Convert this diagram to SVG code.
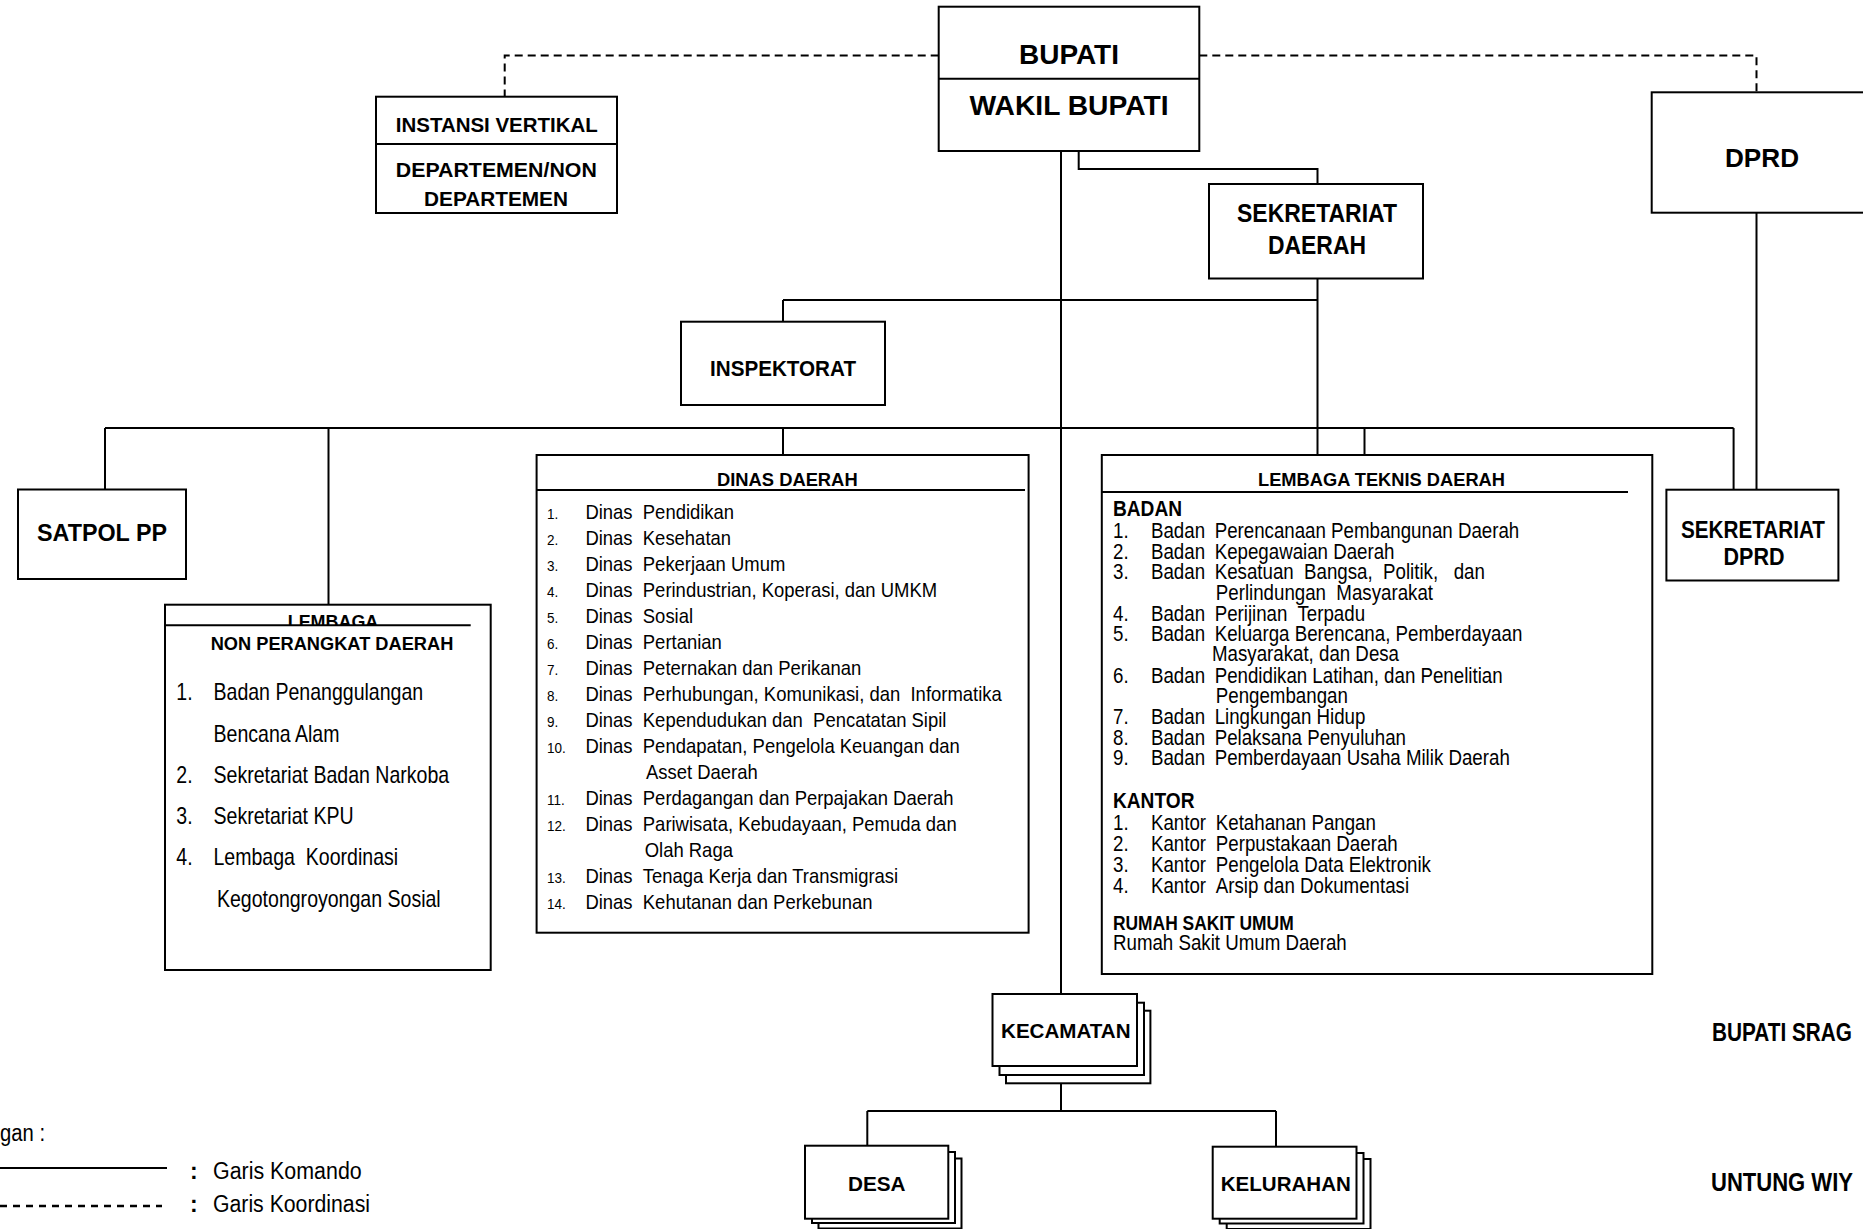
<svg xmlns="http://www.w3.org/2000/svg" width="1863" height="1229" viewBox="0 0 1863 1229">
<style>
.box{fill:#fff;stroke:#000;stroke-width:2}
.ln{fill:none;stroke:#000;stroke-width:2}
.dash{stroke-dasharray:8 5}
text{font-family:"Liberation Sans",Arial,sans-serif;fill:#000}
.b{font-weight:bold}
.c{text-anchor:middle}
.l23{font-size:23px}
.d{font-size:20.5px}
.n{font-size:15px}
.k{font-size:21.5px}
</style>
<defs>
<clipPath id="clipLem"><rect x="160" y="600" width="330" height="25"/></clipPath>
</defs>
<rect width="1863" height="1229" fill="#fff"/>

<g id="connectors">
<path class="ln" d="M1061 151 V994"/>
<path class="ln" d="M1078.7 151 V169 H1317.5 V184"/>
<path class="ln" d="M1317.5 278.5 V455"/>
<path class="ln" d="M783 300 H1317.5 M783 300 V321.7"/>
<path class="ln" d="M105 428 H1733.6"/>
<path class="ln" d="M105 428 V489.5"/>
<path class="ln" d="M328.5 428 V604.7"/>
<path class="ln" d="M783 428 V455"/>
<path class="ln" d="M1364.5 428 V455"/>
<path class="ln" d="M1733.6 428 V489.7"/>
<path class="ln" d="M1756.5 212.7 V489.7"/>
<path class="ln" d="M1061 1083 V1111 M867.3 1111 H1276 M867.3 1111 V1145.7 M1276 1111 V1146.7"/>
<path class="ln dash" d="M938.7 55.5 H504.7 V96.7"/>
<path class="ln dash" d="M1199.3 55.5 H1756.5 V92.3"/>
</g>

<g id="bupati">
<rect class="box" x="938.7" y="6.7" width="260.6" height="144.3"/>
<path class="ln" d="M938.7 78.7 H1199.3"/>
<text class="b c" x="1069" y="64" font-size="28" textLength="100" lengthAdjust="spacingAndGlyphs">BUPATI</text>
<text class="b c" x="1069" y="115.3" font-size="28" textLength="199" lengthAdjust="spacingAndGlyphs">WAKIL BUPATI</text>
</g>

<g id="instansi">
<rect class="box" x="376" y="96.7" width="241" height="116.3"/>
<path class="ln" d="M376 144 H617"/>
<text class="b c" x="496.8" y="132" font-size="21" textLength="202" lengthAdjust="spacingAndGlyphs">INSTANSI VERTIKAL</text>
<text class="b c" x="496.3" y="177" font-size="21" textLength="201" lengthAdjust="spacingAndGlyphs">DEPARTEMEN/NON</text>
<text class="b c" x="496" y="206" font-size="21" textLength="144" lengthAdjust="spacingAndGlyphs">DEPARTEMEN</text>
</g>

<g id="sekda">
<rect class="box" x="1209" y="184" width="214" height="94.5"/>
<text class="b c" x="1317" y="222" font-size="26" textLength="160" lengthAdjust="spacingAndGlyphs">SEKRETARIAT</text>
<text class="b c" x="1317" y="253.6" font-size="26" textLength="98" lengthAdjust="spacingAndGlyphs">DAERAH</text>
</g>

<g id="dprd">
<rect class="box" x="1651.7" y="92.3" width="240" height="120.4"/>
<text class="b c" x="1762" y="167.3" font-size="26" textLength="74" lengthAdjust="spacingAndGlyphs">DPRD</text>
</g>

<g id="inspektorat">
<rect class="box" x="681" y="321.7" width="204" height="83.3"/>
<text class="b c" x="783" y="375.7" font-size="22.5" textLength="146" lengthAdjust="spacingAndGlyphs">INSPEKTORAT</text>
</g>

<g id="satpol">
<rect class="box" x="18" y="489.5" width="168" height="89.5"/>
<text class="b c" x="102" y="541" font-size="24" textLength="130" lengthAdjust="spacingAndGlyphs">SATPOL PP</text>
</g>

<g id="lembaga-non">
<rect class="box" x="165" y="604.7" width="325.7" height="365.3"/>
<text class="b c" x="333" y="627.5" font-size="18" textLength="90.6" lengthAdjust="spacingAndGlyphs" clip-path="url(#clipLem)">LEMBAGA</text>
<path class="ln" d="M165 625.3 H470.7"/>
<text class="b c" x="332" y="650" font-size="18" textLength="242.6" lengthAdjust="spacingAndGlyphs">NON PERANGKAT DAERAH</text>
<g transform="translate(213.5 0) scale(0.85 1)" class="l23">
<text x="-43.8" y="700.4">1.</text><text x="0" y="700.4">Badan Penanggulangan</text>
<text x="0" y="741.7">Bencana Alam</text>
<text x="-43.8" y="782.7">2.</text><text x="0" y="782.7">Sekretariat Badan Narkoba</text>
<text x="-43.8" y="824">3.</text><text x="0" y="824">Sekretariat KPU</text>
<text x="-43.8" y="865">4.</text><text x="0" y="865" xml:space="preserve">Lembaga  Koordinasi</text>
<text x="4.1" y="907">Kegotongroyongan Sosial</text>
</g>
</g>

<g id="dinas">
<rect class="box" x="536.6" y="455" width="492" height="477.7"/>
<path class="ln" d="M536.6 490 H1025"/>
<text class="b c" x="787.3" y="485.7" font-size="18" textLength="140.7" lengthAdjust="spacingAndGlyphs">DINAS DAERAH</text>
<g transform="translate(585.4 0) scale(0.9 1)">
<text class="n" x="-42.7" y="519.3">1.</text><text class="d" x="0" y="519.3">Dinas</text><text class="d" x="63.8" y="519.3">Pendidikan</text>
<text class="n" x="-42.7" y="545.3">2.</text><text class="d" x="0" y="545.3">Dinas</text><text class="d" x="63.8" y="545.3">Kesehatan</text>
<text class="n" x="-42.7" y="571.3">3.</text><text class="d" x="0" y="571.3">Dinas</text><text class="d" x="63.8" y="571.3">Pekerjaan Umum</text>
<text class="n" x="-42.7" y="597.3">4.</text><text class="d" x="0" y="597.3">Dinas</text><text class="d" x="63.8" y="597.3">Perindustrian, Koperasi, dan UMKM</text>
<text class="n" x="-42.7" y="623.3">5.</text><text class="d" x="0" y="623.3">Dinas</text><text class="d" x="63.8" y="623.3">Sosial</text>
<text class="n" x="-42.7" y="649.3">6.</text><text class="d" x="0" y="649.3">Dinas</text><text class="d" x="63.8" y="649.3">Pertanian</text>
<text class="n" x="-42.7" y="675.3">7.</text><text class="d" x="0" y="675.3">Dinas</text><text class="d" x="63.8" y="675.3">Peternakan dan Perikanan</text>
<text class="n" x="-42.7" y="701.3">8.</text><text class="d" x="0" y="701.3">Dinas</text><text class="d" x="63.8" y="701.3" xml:space="preserve">Perhubungan, Komunikasi, dan  Informatika</text>
<text class="n" x="-42.7" y="727.3">9.</text><text class="d" x="0" y="727.3">Dinas</text><text class="d" x="63.8" y="727.3" xml:space="preserve">Kependudukan dan  Pencatatan Sipil</text>
<text class="n" x="-42.7" y="753.3">10.</text><text class="d" x="0" y="753.3">Dinas</text><text class="d" x="63.8" y="753.3">Pendapatan, Pengelola Keuangan dan</text>
<text class="d" x="67.3" y="779.3">Asset Daerah</text>
<text class="n" x="-42.7" y="805.3">11.</text><text class="d" x="0" y="805.3">Dinas</text><text class="d" x="63.8" y="805.3">Perdagangan dan Perpajakan Daerah</text>
<text class="n" x="-42.7" y="831.3">12.</text><text class="d" x="0" y="831.3">Dinas</text><text class="d" x="63.8" y="831.3">Pariwisata, Kebudayaan, Pemuda dan</text>
<text class="d" x="65.9" y="857.3">Olah Raga</text>
<text class="n" x="-42.7" y="883.3">13.</text><text class="d" x="0" y="883.3">Dinas</text><text class="d" x="63.8" y="883.3">Tenaga Kerja dan Transmigrasi</text>
<text class="n" x="-42.7" y="909.3">14.</text><text class="d" x="0" y="909.3">Dinas</text><text class="d" x="63.8" y="909.3">Kehutanan dan Perkebunan</text>
</g>
</g>

<g id="lembaga-teknis">
<rect class="box" x="1101.8" y="455" width="550.5" height="519"/>
<path class="ln" d="M1101.8 492 H1628"/>
<text class="b c" x="1381.5" y="485.8" font-size="18" textLength="247" lengthAdjust="spacingAndGlyphs">LEMBAGA TEKNIS DAERAH</text>
<g transform="translate(1151 0) scale(0.87 1)" class="k">
<text class="b" x="-43.7" y="516.4" font-size="22">BADAN</text>
<text x="-43.7" y="538.1">1.</text><text x="0" y="538.1">Badan</text><text x="73.2" y="538.1">Perencanaan Pembangunan Daerah</text>
<text x="-43.7" y="558.8">2.</text><text x="0" y="558.8">Badan</text><text x="73.2" y="558.8">Kepegawaian Daerah</text>
<text x="-43.7" y="579.5">3.</text><text x="0" y="579.5">Badan</text><text x="73.2" y="579.5" xml:space="preserve">Kesatuan  Bangsa,  Politik,   dan</text>
<text x="74.5" y="600" xml:space="preserve">Perlindungan  Masyarakat</text>
<text x="-43.7" y="620.8">4.</text><text x="0" y="620.8">Badan</text><text x="73.2" y="620.8" xml:space="preserve">Perijinan  Terpadu</text>
<text x="-43.7" y="641.4">5.</text><text x="0" y="641.4">Badan</text><text x="73.2" y="641.4">Keluarga Berencana, Pemberdayaan</text>
<text x="70.1" y="661.4">Masyarakat, dan Desa</text>
<text x="-43.7" y="682.8">6.</text><text x="0" y="682.8">Badan</text><text x="73.2" y="682.8">Pendidikan Latihan, dan Penelitian</text>
<text x="74.5" y="703.4">Pengembangan</text>
<text x="-43.7" y="724">7.</text><text x="0" y="724">Badan</text><text x="73.2" y="724">Lingkungan Hidup</text>
<text x="-43.7" y="744.8">8.</text><text x="0" y="744.8">Badan</text><text x="73.2" y="744.8">Pelaksana Penyuluhan</text>
<text x="-43.7" y="765.4">9.</text><text x="0" y="765.4">Badan</text><text x="73.2" y="765.4">Pemberdayaan Usaha Milik Daerah</text>
<text class="b" x="-43.7" y="807.8" font-size="22">KANTOR</text>
<text x="-43.7" y="830">1.</text><text x="0" y="830">Kantor</text><text x="74.5" y="830">Ketahanan Pangan</text>
<text x="-43.7" y="851.5">2.</text><text x="0" y="851.5">Kantor</text><text x="74.5" y="851.5">Perpustakaan Daerah</text>
<text x="-43.7" y="872">3.</text><text x="0" y="872">Kantor</text><text x="74.5" y="872">Pengelola Data Elektronik</text>
<text x="-43.7" y="892.8">4.</text><text x="0" y="892.8">Kantor</text><text x="74.5" y="892.8">Arsip dan Dokumentasi</text>
<text class="b" x="-43.7" y="929.7" font-size="20">RUMAH SAKIT UMUM</text>
<text x="-43.7" y="950.3">Rumah Sakit Umum Daerah</text>
</g>
</g>

<g id="sekretariat-dprd">
<rect class="box" x="1666.4" y="489.7" width="172" height="90.8"/>
<text class="b c" x="1753" y="538" font-size="23" textLength="144" lengthAdjust="spacingAndGlyphs">SEKRETARIAT</text>
<text class="b c" x="1754" y="565" font-size="23" textLength="61" lengthAdjust="spacingAndGlyphs">DPRD</text>
</g>

<g id="kecamatan">
<rect class="box" x="1006" y="1010.7" width="144.4" height="72.6"/>
<rect class="box" x="999.5" y="1002.7" width="144.5" height="72.3"/>
<rect class="box" x="992.5" y="994" width="144.5" height="72"/>
<text class="b c" x="1065.8" y="1038" font-size="21" textLength="129.5" lengthAdjust="spacingAndGlyphs">KECAMATAN</text>
</g>

<g id="desa">
<rect class="box" x="818.5" y="1158.5" width="143" height="70"/>
<rect class="box" x="812" y="1152" width="143" height="71"/>
<rect class="box" x="805" y="1145.7" width="143.3" height="73"/>
<text class="b c" x="876.8" y="1191" font-size="21" textLength="57.6" lengthAdjust="spacingAndGlyphs">DESA</text>
</g>

<g id="kelurahan">
<rect class="box" x="1226.7" y="1159" width="143.8" height="70"/>
<rect class="box" x="1219.7" y="1153" width="143.8" height="70.5"/>
<rect class="box" x="1212.7" y="1146.7" width="143.8" height="72"/>
<text class="b c" x="1285.8" y="1191" font-size="21" textLength="130" lengthAdjust="spacingAndGlyphs">KELURAHAN</text>
</g>

<g id="signature">
<text class="b" x="1712" y="1040.7" font-size="25" textLength="140" lengthAdjust="spacingAndGlyphs">BUPATI SRAG</text>
<text class="b" x="1711" y="1191" font-size="25" textLength="142" lengthAdjust="spacingAndGlyphs">UNTUNG WIY</text>
</g>

<g id="legend">
<text x="0" y="1141" font-size="23" textLength="45" lengthAdjust="spacingAndGlyphs">gan :</text>
<path class="ln" d="M0 1168 H167"/>
<text class="b" x="190" y="1179" font-size="23">:</text>
<text x="213" y="1179" font-size="23" textLength="148.7" lengthAdjust="spacingAndGlyphs">Garis Komando</text>
<path d="M0 1206 H162" fill="none" stroke="#000" stroke-width="2.5" stroke-dasharray="7 6"/>
<text class="b" x="190" y="1212" font-size="23">:</text>
<text x="213" y="1212" font-size="23" textLength="157" lengthAdjust="spacingAndGlyphs">Garis Koordinasi</text>
</g>
</svg>
